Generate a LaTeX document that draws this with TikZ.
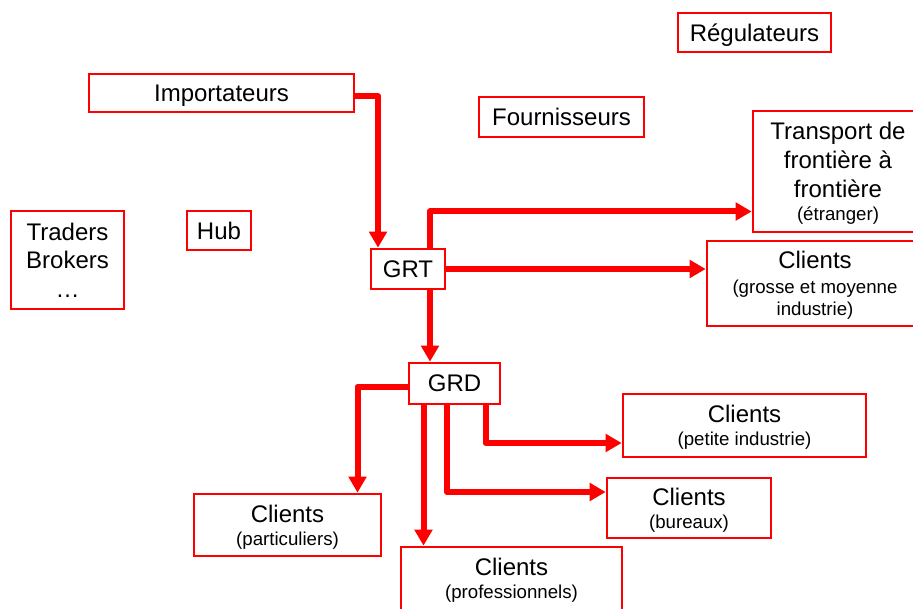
\documentclass[tikz,border=0pt]{standalone}
\usepackage{fontspec}
\setmainfont{Liberation Sans}
\usepackage{tikz}
\usetikzlibrary{calc}
\usetikzlibrary{arrows.meta}
\newcommand{\subtxt}{\fontsize{14}{16.5}\selectfont}
\tikzset{
    box/.style = {draw=red, line width=2pt, fill=white, inner sep=0pt, align=center,
        text depth=-2.5pt, font=\fontsize{18}{21.5}\selectfont},
    sized/.style 2 args = {minimum width=#1*0.75pt, minimum height=#2*0.75pt},
    flow/.style = {draw=red, line width=4.5pt, line join=round,
        -{Triangle[length=12pt,width=13pt]}}}

\begin{document}
\begin{tikzpicture}[x=0.75pt,y=-0.75pt]
        \clip (0,0) rectangle (913,609);
        \path (754.5,32.5) node[box,sized={153}{39}] (reg) {Régulateurs}
        (221.5,93) node[box,sized={265}{38}] (imp) {Importateurs}
        (561.5,117) node[box,sized={165}{40}] (four) {Fournisseurs}
        (838,171.5) node[box,sized={170}{121}] (trans) {Transport de\\frontière à\\frontière\\[-4pt]{\subtxt (étranger)}}
        (67.5,260) node[box,sized={113}{98}] (trad) {Traders\\Brokers\\\ldots}
        (219,230.5) node[box,sized={64}{39}] (hub) {Hub}
        (408,269) node[box,sized={74}{40}] (grt) {GRT}
        (815,283.5) node[box,sized={216}{85}] (gros) {Clients\\[-3pt]{\subtxt (grosse et moyenne}\\[-5pt]{\subtxt industrie)}}
        (454.5,383.5) node[box,sized={91}{41}] (grd) {GRD}
        (744.5,425.5) node[box,sized={243}{63}] (pet) {Clients\\[-4.5pt]{\subtxt (petite industrie)}}
        (689,508) node[box,sized={164}{60}] (bur) {Clients\\[-4.5pt]{\subtxt (bureaux)}}
        (287.5,525) node[box,sized={187}{62}] (par) {Clients\\[-4.5pt]{\subtxt (particuliers)}}
        (511.5,578.5) node[box,sized={221}{63}] (pro) {Clients\\[-4.5pt]{\subtxt (professionnels)}};
        % transport
        \draw[flow] ($(imp.east)+(0,3)$) -| ($(grt.north)+(-30,0)$);
        \draw[flow] ($(grt.north)+(22,0)$) |- ($(trans.west)+(0,40)$);
        \draw[flow] (grt.east) -- (gros.west |- grt.east);
        \draw[flow] ($(grt.south)+(22,0)$) coordinate (a) -- (a |- grd.north);
        % distribution
        \draw[flow] ($(grd.west)+(0,3)$) -| ($(par.north)+(70,0)$);
        \draw[flow] ($(grd.south)+(-31,0)$) coordinate (b) -- (b |- pro.north);
        \draw[flow] ($(grd.south)+(-7.5,0)$) |- ($(bur.west)+(0,-16)$);
        \draw[flow] ($(grd.south)+(31,0)$) |- ($(pet.west)+(0,17.5)$);
\end{tikzpicture}
\end{document}
